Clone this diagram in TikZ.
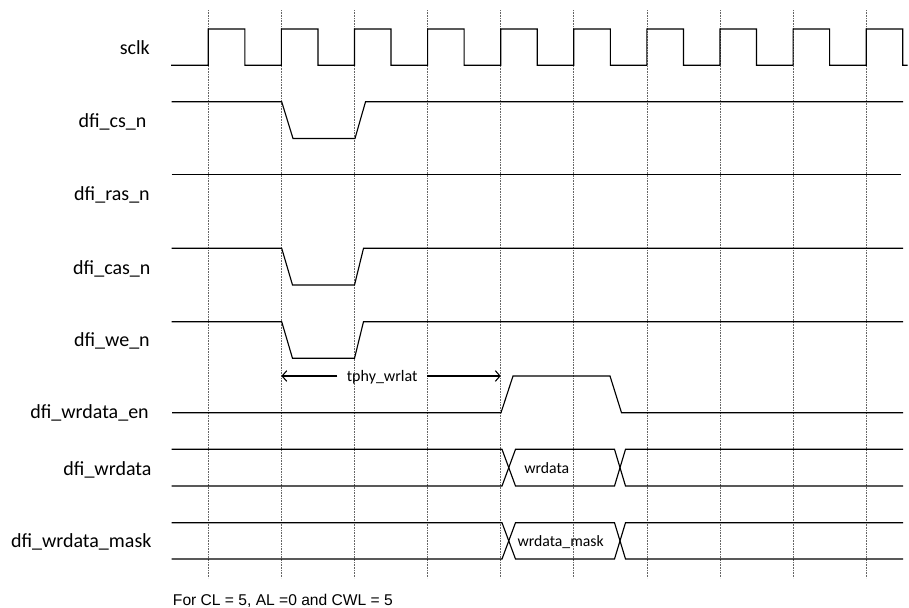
\documentclass[tikz,border=0pt]{standalone}
\usepackage{fontspec}
\setmainfont{Carlito}
\newfontfamily\arialf{Liberation Sans}
\usetikzlibrary{arrows.meta}
\tikzset{
  sig/.style={draw=black, line width=0.85pt, line join=miter},
  sigdark/.style={draw=black, line width=0.95pt},
  gridline/.style={draw=black!60, line width=0.6pt, dash pattern=on 0.6pt off 0.6pt},
  lbl/.style={anchor=base east, inner sep=0pt, font=\fontsize{15}{18}\selectfont},
  inlbl/.style={anchor=base, inner sep=0pt, font=\fontsize{11.8}{14}\selectfont},
  arr/.style={draw=black, line width=0.8pt, -{Straight Barb[length=3.5pt,width=8pt]}},
}
\begin{document}
\begin{tikzpicture}[x=0.75pt,y=-0.75pt]
\useasboundingbox (0,0) rectangle (909,607);
% vertical grid lines
\foreach \i in {0,...,9} {
  \draw[gridline] ({208.3+73.1*\i},10) -- ({208.3+73.1*\i},578);
}
% labels
\node[lbl] (lsclk) at (150,54) {sclk};
\node[lbl] (lcs) at (146.7,127.3) {dfi\_cs\_n};
\node[lbl] (lras) at (150,200.7) {dfi\_ras\_n};
\node[lbl] (lcas) at (150.7,274) {dfi\_cas\_n};
\node[lbl] (lwe) at (150,346.7) {dfi\_we\_n};
\node[lbl] (len) at (149,418.3) {dfi\_wrdata\_en};
\node[lbl] (ldata) at (151.7,475) {dfi\_wrdata};
\node[lbl] (lmask) at (151.7,547.3) {dfi\_wrdata\_mask};
% sclk
\draw[sig] (171,65.3) -- (208.3,65.3)
  \foreach \i in {0,...,8} { -- ({208.3+73.1*\i},29) -- ({244.85+73.1*\i},29) -- ({244.85+73.1*\i},65.3) -- ({281.4+73.1*\i},65.3) }
  -- (866.2,29) -- (902.75,29) -- (902.75,65.3) -- (907.5,65.3);
% dfi_cs_n
\draw[sig] (171.5,101.8) -- (281.7,101.8) -- (293,138.5) -- (355,138.5) -- (365.5,101.8) -- (903,101.8);
\draw[sigdark] (221.7,101.8) -- (261.7,101.8);
% dfi_ras_n
\draw[sig] (171.5,174.6) -- (901,174.6);
% dfi_cas_n
\draw[sig] (171.5,248.3) -- (281.7,248.3) -- (292.5,285) -- (354.5,285) -- (363.5,248.3) -- (903,248.3);
\draw[sigdark] (220,248.3) -- (261.7,248.3);
% dfi_we_n
\draw[sig] (171.5,321.7) -- (281.7,321.7) -- (292.5,358.3) -- (354.5,358.3) -- (363.5,321.7) -- (903,321.7);
\draw[sigdark] (220,321.7) -- (261.7,321.7);
% dfi_wrdata_en
\draw[sig] (172,412.7) -- (501,412.7) -- (513,376) -- (610,376) -- (621.5,412.7) -- (903,412.7);
% tphy_wrlat
\coordinate (twl) at (281.4,376);
\coordinate (twr) at (500.7,376);
\node[inlbl, font=\fontsize{12}{14}\selectfont, inner xsep=7pt] (tw) at (382.2,381.7) {tphy\_wrlat};
\draw[arr] (tw.west |- twl) -- (twl);
\draw[arr] (tw.east |- twr) -- (twr);
% dfi_wrdata
\draw[sig] (171.5,449.3) -- (502,449.3) -- (515.5,486) -- (614.5,486) -- (625.5,449.3) -- (903,449.3);
\draw[sig] (171.5,486) -- (502,486) -- (515.5,449.3) -- (614.5,449.3) -- (625.5,486) -- (903,486);
\node[inlbl] (wd) at (546.7,473.3) {wrdata};
% dfi_wrdata_mask
\draw[sig] (171.5,522.7) -- (502,522.7) -- (515.5,559) -- (614.5,559) -- (625.5,522.7) -- (903,522.7);
\draw[sig] (171.5,559) -- (502,559) -- (515.5,522.7) -- (614.5,522.7) -- (625.5,559) -- (903,559);
\node[inlbl] (wm) at (560.7,546) {wrdata\_mask};
% footnote
\node[anchor=base west, inner sep=0pt, font=\arialf\fontsize{11.7}{14}\selectfont] (fn) at (172.7,605) {For CL = 5, AL =0 and CWL = 5};
\end{tikzpicture}
\end{document}
